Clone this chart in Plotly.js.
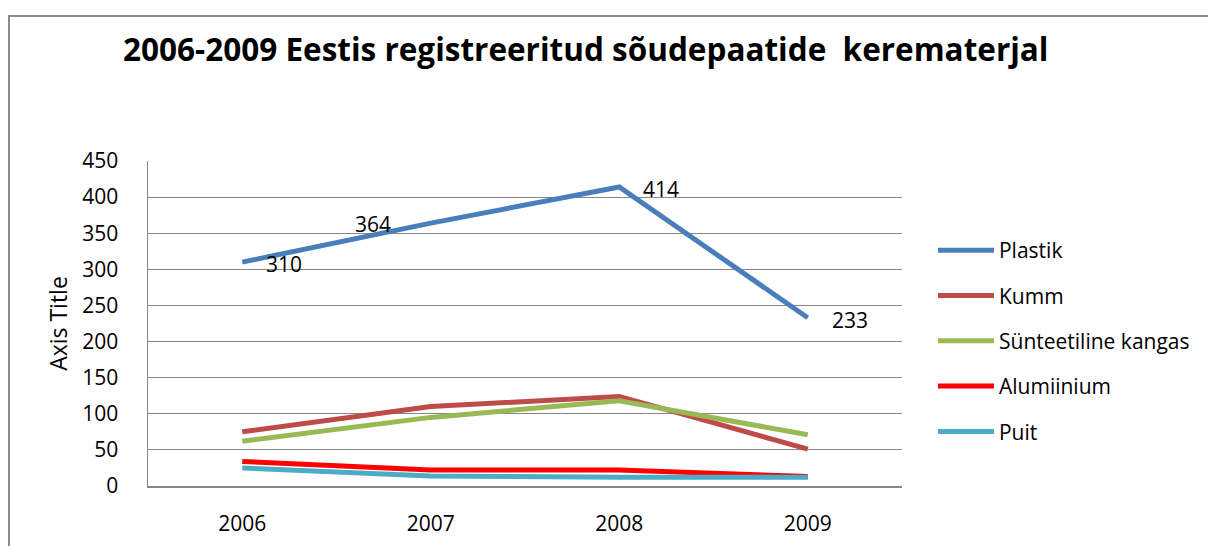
<!DOCTYPE html>
<html>
<head>
<meta charset="utf-8">
<script src="https://cdn.plot.ly/plotly-3.0.1.min.js"></script>
<style>
  html, body { margin: 0; padding: 0; background: #fff; }
  #wrap { position: relative; width: 1208px; height: 546px; overflow: hidden; }
  #frame { position: absolute; left: 8px; top: 15px; width: 1400px; height: 800px;
           border-left: 2px solid #8a8a8a; border-top: 2px solid #8a8a8a; }
  #chart { position: absolute; left: 0; top: 0; width: 1208px; height: 546px; }
</style>
</head>
<body>
<div id="wrap">
  <div id="frame"></div>
  <div id="chart"></div>
</div>
<script>
const years = ['2006', '2007', '2008', '2009'];
const plastik = [310, 364, 414, 233];
const kumm = [75, 110, 124, 51];
const synteetiline = [62, 95, 118, 71];
const alumiinium = [34, 22, 22, 13];
const puit = [25, 14, 12, 12];
const seriesNames = ['Plastik', 'Kumm', 'Sünteetiline kangas', 'Alumiinium', 'Puit'];
const yTicks = [0, 50, 100, 150, 200, 250, 300, 350, 400, 450];

const seriesData = [plastik, kumm, synteetiline, alumiinium, puit];
const colors = ['#4A7EBB', '#BE4B48', '#98B954', '#FF0000', '#4BACC6'];
const font = 'Open Sans, Liberation Sans, sans-serif';

const traces = seriesData.map((vals, i) => ({
  type: 'scatter',
  mode: 'lines',
  x: years,
  y: vals,
  name: seriesNames[i],
  legendgroup: 'g' + i,
  line: { color: colors[i], width: 5 },
  hoverinfo: 'x+y+name'
}));

// data labels for Plastik (label placement offsets are style, not data)
const labelShift = [22, -38, 22, 22];
const annotations = plastik.map((v, i) => ({
  x: i, y: v, xref: 'x', yref: 'y',
  text: String(v), showarrow: false,
  xanchor: labelShift[i] < 0 ? 'right' : 'left',
  xshift: labelShift[i], yshift: i === 1 ? -1 : -2,
  font: { family: font, size: 21, color: '#000' }
}));

const layout = {
  width: 1208, height: 546,
  paper_bgcolor: 'rgba(0,0,0,0)',
  plot_bgcolor: 'rgba(0,0,0,0)',
  margin: { l: 148, r: 306, t: 161, b: 60, pad: 0 },
  title: {
    text: '<b>2006-2009 Eestis registreeritud sõudepaatide  kerematerjal</b>',
    font: { family: font, size: 31.5, color: '#000' },
    xref: 'container', yref: 'container',
    x: 123 / 1208, xanchor: 'left',
    y: 1 - 50 / 546, yanchor: 'middle'
  },
  showlegend: true,
  legend: {
    x: 1.0411, xanchor: 'left', y: 0.446, yanchor: 'middle',
    font: { family: font, size: 21, color: '#000' },
    tracegroupgap: 15,
    itemwidth: 56,
    bgcolor: 'rgba(0,0,0,0)'
  },
  xaxis: {
    type: 'category',
    range: [-0.5, 3.5],
    showgrid: false,
    showline: true, linecolor: '#868686', linewidth: 1.5,
    ticks: '',
    ticklabelstandoff: 18,
    tickfont: { family: font, size: 21, color: '#000' },
    fixedrange: true
  },
  yaxis: {
    range: [0, 450],
    tickvals: yTicks,
    ticktext: yTicks.map(String),
    showgrid: true, gridcolor: '#868686', gridwidth: 1.2,
    showline: true, linecolor: '#868686', linewidth: 1.5,
    zeroline: false,
    ticks: '',
    ticklabelstandoff: 24,
    tickfont: { family: font, size: 21, color: '#000' },
    title: { text: 'Axis Title', font: { family: font, size: 23, color: '#000' }, standoff: 8 },
    fixedrange: true
  },
  annotations: annotations
};

Plotly.newPlot('chart', traces, layout, { displayModeBar: false, staticPlot: true });
</script>
</body>
</html>
